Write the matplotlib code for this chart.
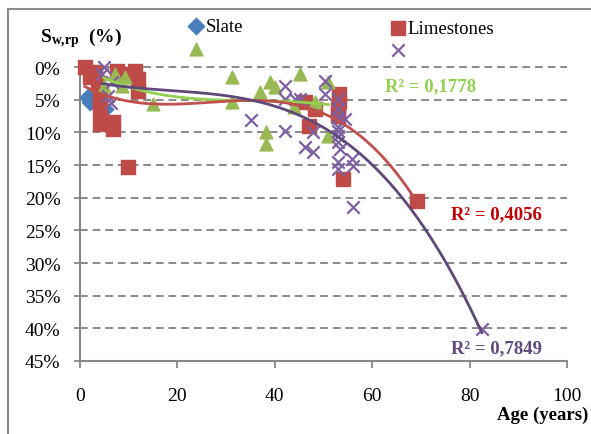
import numpy as np
import matplotlib
matplotlib.use('Agg')
import matplotlib.pyplot as plt
from matplotlib.patches import Rectangle

plt.rcParams['font.family'] = ['Liberation Serif', 'DejaVu Serif']
plt.rcParams['mathtext.fontset'] = 'custom'
plt.rcParams['mathtext.rm'] = 'Liberation Serif'
plt.rcParams['mathtext.bf'] = 'Liberation Serif:bold'

# datos (edad en anos, Sw,rp en %)
slate_age = [1.6, 2.0, 5.1]
slate_sw = [4.6, 5.4, 6.5]

lime_age = [1.0, 2.1, 3.0, 3.7, 4.1, 4.1, 4.1, 4.1, 6.8, 6.8, 9.9, 11.3, 11.9, 11.9, 9.2, 7.6,
            46.2, 48.3, 47.0, 53.2, 53.2, 53.0, 53.0, 54.0, 69.2]
lime_sw = [0.0, 1.5, 0.8, 2.6, 4.1, 5.4, 6.4, 8.7, 8.4, 9.5, 15.3, 0.6, 1.8, 3.7, 1.1, 0.6,
           5.4, 6.4, 9.0, 4.1, 5.4, 7.5, 6.4, 17.2, 20.5]

green_age = [7.2, 9.2, 4.9, 8.6, 15.0, 31.2, 31.2, 37.0, 39.0, 40.0, 38.2, 38.2,
             45.2, 44.0, 48.3, 51.0, 51.0]
green_sw = [1.1, 1.5, 2.9, 2.9, 5.7, 1.5, 5.4, 3.8, 2.3, 3.1, 10.0, 11.8,
            1.1, 6.1, 5.4, 2.3, 10.6]

purple_age = [4.9, 4.5, 6.6, 5.7, 6.4, 35.1, 42.1, 42.1, 42.1, 44.1, 45.2, 46.2, 47.8, 47.8,
              50.3, 50.3, 53.0, 53.0, 53.0, 54.4, 53.0, 53.0, 53.0, 53.0, 53.4, 55.9, 56.1,
              53.0, 53.0, 56.1, 82.5]
purple_sw = [0.0, 1.1, 2.3, 4.4, 5.5, 8.1, 2.9, 4.9, 9.8, 4.9, 4.9, 12.3, 13.0, 10.0,
             2.1, 4.1, 4.9, 6.4, 7.7, 8.0, 9.2, 9.8, 10.6, 11.5, 12.6, 14.1, 15.2,
             15.6, 14.5, 21.4, 40.1]

r2_green = 'R² = 0,1778'
r2_red = 'R² = 0,4056'
r2_purple = 'R² = 0,7849'

fig = plt.figure(figsize=(5.91, 4.35), dpi=100)
ax = fig.add_axes([80 / 591, 73 / 435, 487 / 591, 299.2 / 435])

# series
s1 = ax.scatter(slate_age, slate_sw, marker='D', s=70, color='#4A7EBB', zorder=3)
s2 = ax.scatter(lime_age, lime_sw, marker='s', s=95, color='#BE4B48', zorder=4)
s3 = ax.scatter(green_age, green_sw, marker='^', s=85, color='#98B954', zorder=5)
s4 = ax.scatter(purple_age, purple_sw, marker='x', s=80, color='#7D60A0', linewidths=1.6, zorder=6)
for s in (s1, s2, s3, s4):
    s.set_clip_on(False)

# lineas de tendencia polinomicas (grado 3)
def tendencia(x, y, color):
    c = np.polyfit(x, y, 3)
    xx = np.linspace(min(x), max(x), 200)
    ax.plot(xx, np.polyval(c, xx), color=color, lw=2, zorder=7)

tendencia(green_age, green_sw, '#92D050')
tendencia(lime_age, lime_sw, '#C0504D')
tendencia(purple_age, purple_sw, '#5F497A')

ax.text(71.9, 2.9, r2_green, color='#92D050', fontsize=13.5, weight='bold', ha='center', va='center')
ax.text(85.6, 22.4, r2_red, color='#C00000', fontsize=13.5, weight='bold', ha='center', va='center')
ax.text(85.6, 42.9, r2_purple, color='#604A7B', fontsize=13.5, weight='bold', ha='center', va='center')

ax.set_xlim(0, 100)
ax.set_ylim(45, -0.8)
ax.set_xticks(range(0, 101, 20))
ax.set_yticks(range(0, 46, 5))
ax.set_yticklabels([f'{v}%' for v in range(0, 46, 5)])
ax.tick_params(axis='both', labelsize=14, color='#888888', width=1.3)
ax.tick_params(axis='y', length=4, pad=10)
ax.tick_params(axis='x', length=5, pad=14)

for v in range(0, 41, 5):
    ax.axhline(v, color='#8a8a8a', lw=1.4, ls=(0, (4, 2.5)), zorder=1)

for side in ('top', 'right'):
    ax.spines[side].set_visible(False)
for side in ('left', 'bottom'):
    ax.spines[side].set_color('#888888')
    ax.spines[side].set_linewidth(1.5)

# leyenda
kw = dict(frameon=False, fontsize=13.5, handlelength=1, handletextpad=0, borderpad=0,
          labelspacing=0.3, scatterpoints=1, loc='upper left', bbox_transform=fig.transFigure)
leg1 = ax.legend([s1, s3], ['Slate', ' '], bbox_to_anchor=(177.6 / 591, 1 - 9.5 / 435), **kw)
ax.add_artist(leg1)
ax.legend([s2, s4], ['Limestones', ' '], bbox_to_anchor=(379.6 / 591, 1 - 11 / 435), **kw)

fig.text(40 / 591, 1 - 38 / 435, r'$\mathbf{S_{w{,}rp}}$  (%)', fontsize=14, weight='bold', va='center')
fig.text(588 / 591, 1 - 415 / 435, 'Age (years)', fontsize=13.5, weight='bold', ha='right', va='center')

fig.add_artist(Rectangle((8 / 591, -0.1), 1.2, 1 - 10 / 435 + 0.1, transform=fig.transFigure,
                         fill=False, ec='#8c8c8c', lw=1.5, clip_on=False))

fig.savefig('out.png', dpi=100)
